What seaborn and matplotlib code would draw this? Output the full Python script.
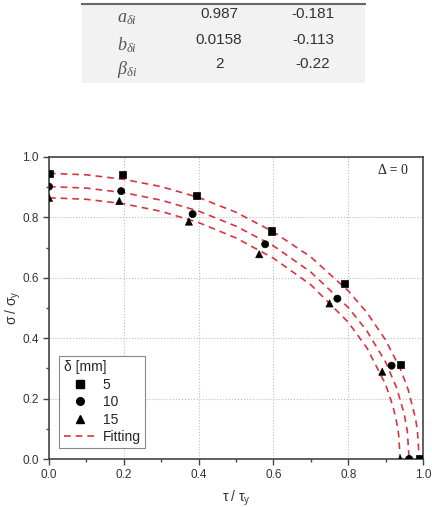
"""Interaction curve sigma/sigma_y vs tau/tau_y for three delta values, with fit table."""
import matplotlib

matplotlib.use("Agg")
import matplotlib.pyplot as plt
import pandas as pd
import seaborn as sns
from matplotlib.lines import Line2D
from matplotlib.ticker import FormatStrFormatter, MultipleLocator

# --- fit-parameter table ---------------------------------------------------
param_labels = [r"$a_{\delta i}$", r"$b_{\delta i}$", r"$\beta_{\delta i}$"]
param_col1 = ["0.987", "0.0158", "2"]
param_col2 = ["-0.181", "-0.113", "-0.22"]

deltas = ["5", "10", "15"]
tau_5 = [0.0, 0.197, 0.395, 0.594, 0.791, 0.939, 0.990]
sig_5 = [0.946, 0.943, 0.874, 0.755, 0.582, 0.314, 0.0]
tau_10 = [0.0, 0.193, 0.384, 0.578, 0.771, 0.916, 0.963]
sig_10 = [0.902, 0.887, 0.811, 0.711, 0.531, 0.309, 0.0]
tau_15 = [0.0, 0.188, 0.374, 0.562, 0.750, 0.891, 0.939]
sig_15 = [0.865, 0.854, 0.786, 0.678, 0.515, 0.289, 0.0]

# --- fitted curves ---------------------------------------------------------
fit_tau_5 = [0.0, 0.1, 0.2, 0.3, 0.4, 0.5, 0.6, 0.7, 0.8, 0.85, 0.9, 0.94, 0.96, 0.98, 0.985, 0.99]
fit_sig_5 = [0.946, 0.941, 0.926, 0.902, 0.866, 0.817, 0.752, 0.669, 0.557, 0.485, 0.394, 0.297,
             0.231, 0.134, 0.095, 0.0]
fit_tau_10 = [0.0, 0.1, 0.2, 0.3, 0.4, 0.5, 0.6, 0.7, 0.8, 0.85, 0.9, 0.93, 0.95, 0.958, 0.963]
fit_sig_10 = [0.902, 0.897, 0.882, 0.857, 0.821, 0.771, 0.706, 0.619, 0.502, 0.424, 0.321, 0.234,
              0.148, 0.092, 0.0]
fit_tau_15 = [0.0, 0.1, 0.2, 0.3, 0.4, 0.5, 0.6, 0.7, 0.8, 0.85, 0.9, 0.92, 0.93, 0.935, 0.939]
fit_sig_15 = [0.865, 0.860, 0.845, 0.820, 0.783, 0.732, 0.665, 0.577, 0.453, 0.368, 0.247, 0.173,
              0.119, 0.080, 0.0]

points = pd.concat([
    pd.DataFrame({"tau": tau_5, "sig": sig_5, "delta": "5"}),
    pd.DataFrame({"tau": tau_10, "sig": sig_10, "delta": "10"}),
    pd.DataFrame({"tau": tau_15, "sig": sig_15, "delta": "15"}),
])
fits = pd.concat([
    pd.DataFrame({"tau": fit_tau_5, "sig": fit_sig_5, "delta": "5"}),
    pd.DataFrame({"tau": fit_tau_10, "sig": fit_sig_10, "delta": "10"}),
    pd.DataFrame({"tau": fit_tau_15, "sig": fit_sig_15, "delta": "15"}),
])

sns.set_theme(style="white")
plt.rcParams.update({
    "font.family": ["Liberation Sans", "DejaVu Sans"],
    "mathtext.fontset": "custom",
    "mathtext.rm": "Liberation Serif",
    "mathtext.it": "Liberation Serif:italic",
    "mathtext.sf": "Liberation Sans",
})

FIT_RED = "#d9343f"
MARKERS = {"5": "s", "10": "o", "15": "^"}

fig = plt.figure(figsize=(4.32, 5.07), dpi=100)

# table panel
tax = fig.add_axes([82 / 432, 1 - 83 / 507, 283 / 432, 79 / 507])
tax.set_facecolor("#f2f2f2")
tax.set_xlim(0, 283)
tax.set_ylim(79, 0)
tax.set_xticks([])
tax.set_yticks([])
for side in ["left", "right", "bottom"]:
    tax.spines[side].set_visible(False)
tax.spines["top"].set_color("#666666")
tax.spines["top"].set_linewidth(1.5)
row_y = [10, 36, 60]
for lab, v1, v2, y in zip(param_labels, param_col1, param_col2, row_y):
    tax.text(45, y + 5, lab, ha="center", va="center", fontsize=13, color="#555555")
    tax.text(137, y, v1, ha="center", va="center", fontsize=11, color="#333333")
    tax.text(231, y, v2, ha="center", va="center", fontsize=11, color="#333333")

# main chart
ax = fig.add_axes([49 / 432, 1 - 459 / 507, 374 / 432, 302 / 507])
sns.lineplot(data=fits, x="tau", y="sig", units="delta", estimator=None, sort=False,
             color=FIT_RED, lw=1.2, dashes=False, ax=ax, legend=False)
for line in ax.get_lines():
    line.set_dashes((4, 3))
sns.scatterplot(data=points, x="tau", y="sig", style="delta", markers=MARKERS,
                color="black", s=26, edgecolor="black", linewidth=0.5, ax=ax,
                legend=False, zorder=5)

ax.set_xlim(0, 1)
ax.set_ylim(0, 1)
ax.xaxis.set_major_locator(MultipleLocator(0.2))
ax.xaxis.set_minor_locator(MultipleLocator(0.1))
ax.yaxis.set_major_locator(MultipleLocator(0.2))
ax.yaxis.set_minor_locator(MultipleLocator(0.1))
ax.tick_params(which="both", direction="out", bottom=True, left=True, top=False, right=False,
               colors="#444444", labelcolor="#333333", labelsize=8.5)
ax.tick_params(which="major", length=4, width=1)
ax.tick_params(which="minor", length=2.5, width=1)
ax.grid(True, which="major", ls=":", color="#bbbbbb", lw=0.8)
for side in ax.spines.values():
    side.set_color("#444444")
    side.set_linewidth(1.2)
ax.set_xlabel(r"$\mathsf{\tau\ /\ \tau_y}$", fontsize=10, color="#333333")
ax.set_ylabel(r"$\mathsf{\sigma\ /\ \sigma_y}$", fontsize=10, color="#333333")
ax.xaxis.set_label_coords(0.5, -0.098)
ax.yaxis.set_label_coords(-0.07, 0.5)
ax.xaxis.set_major_formatter(FormatStrFormatter("%.1f"))
ax.yaxis.set_major_formatter(FormatStrFormatter("%.1f"))

ax.text(0.92, 0.955, "Δ = 0", transform=ax.transAxes, ha="center", va="center",
        fontsize=10, family=["Liberation Serif", "DejaVu Serif"], color="#222222")

handles = [Line2D([], [], ls="none", marker=MARKERS[d], color="black", ms=5.5) for d in deltas]
handles.append(Line2D([], [], color=FIT_RED, lw=1.2, dashes=(4, 3)))
leg = ax.legend(handles, deltas + ["Fitting"], title="δ [mm]", loc="lower left",
                bbox_to_anchor=(0.028, 0.035), fontsize=10, title_fontsize=10,
                frameon=True, fancybox=False, framealpha=1, edgecolor="#888888",
                handlelength=2.3, handletextpad=0.5, borderpad=0.3, labelspacing=0.25,
                borderaxespad=0)
leg._legend_box.align = "left"
leg.get_frame().set_linewidth(0.8)

fig.savefig("out.png", dpi=100)
